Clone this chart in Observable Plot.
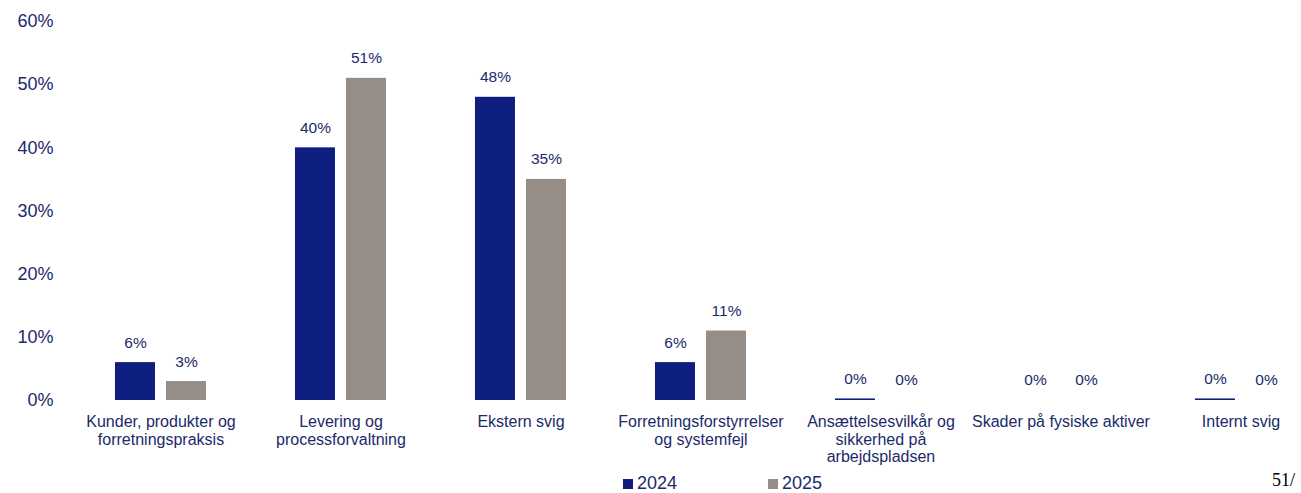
<!DOCTYPE html>
<html>
<head>
<meta charset="utf-8">
<script src="https://cdn.jsdelivr.net/npm/d3@7"></script>
<script src="https://cdn.jsdelivr.net/npm/@observablehq/plot@0.6"></script>
<style>
  html, body { margin: 0; padding: 0; background: #fff; overflow: hidden; }
  #wrap { position: relative; width: 1301px; height: 493px; overflow: hidden; font-family: "Liberation Sans", Arial, sans-serif; }
  #legend { display: flex; margin-top: 3px; padding-left: 623px; gap: 91px; font-size: 18px; line-height: 20px; color: #1b2a6b; }
  .item { display: flex; align-items: baseline; gap: 4px; }
  .sw { display: inline-block; width: 10px; height: 10px; }
  #page { position: absolute; left: 1272px; top: 471px; font-size: 18px; line-height: 18px; color: #000; font-family: "Liberation Serif", "Times New Roman", serif; }
</style>
</head>
<body>
<div id="wrap"></div>
<script>
// Categories (risk types) and their multi-line tick labels
const categories = [
  "Kunder, produkter og forretningspraksis",
  "Levering og processforvaltning",
  "Ekstern svig",
  "Forretningsforstyrrelser og systemfejl",
  "Ansættelsesvilkår og sikkerhed på arbejdspladsen",
  "Skader på fysiske aktiver",
  "Internt svig"
];
const tickLabels = [
  "Kunder, produkter og\nforretningspraksis",
  "Levering og\nprocessforvaltning",
  "Ekstern svig",
  "Forretningsforstyrrelser\nog systemfejl",
  "Ansættelsesvilkår og\nsikkerhed på\narbejdspladsen",
  "Skader på fysiske aktiver",
  "Internt svig"
];
const years = ["2024", "2025"];
// 2024 shows a hairline bar for two of the "0%" categories (small non-zero values, rounded to 0%)
const values2024 = [6, 40, 48, 6, 0.25, 0, 0.25];
const values2025 = [3, 51, 35, 11, 0, 0, 0];
const yTicks = [0, 10, 20, 30, 40, 50, 60];
const colors = ["#0f1f80", "#968d86"];
const textColor = "#1b2a6b";

const data = categories.flatMap((c, i) => [
  {cat: c, year: years[0], value: values2024[i]},
  {cat: c, year: years[1], value: values2025[i]}
]);

const chart = Plot.plot({
  width: 1301,
  height: 470,
  marginTop: 21,
  marginBottom: 70,
  marginLeft: 56,
  marginRight: 0,
  style: {fontFamily: "'Liberation Sans', Arial, sans-serif", color: textColor, background: "#fff", overflow: "visible"},
  fx: {domain: categories, paddingInner: 0.4944, paddingOuter: 0.2056, align: 0.797, round: false},
  x: {domain: years, paddingInner: 0.2157, paddingOuter: 0, round: false, axis: null},
  y: {domain: [0, 60], axis: null},
  color: {domain: years, range: colors},
  marks: [
    Plot.barY(data, {fx: "cat", x: "year", y: "value", fill: "year"}),
    Plot.text(data, {fx: "cat", x: "year", y: "value", text: d => Math.round(d.value) + "%", dy: -20, fontSize: 15.5, fill: textColor}),
    // y axis sits in the leftmost facet; shift it back to the plot's left margin
    Plot.axisY({ticks: yTicks, tickFormat: d => d + "%", tickSize: 0, tickPadding: 3, dx: -59, fontSize: 18, fill: textColor, label: null}),
    Plot.axisFx({anchor: "bottom", tickSize: 0, tickPadding: 14, fontSize: 16, lineHeight: 1.1, fill: textColor, label: null,
      tickFormat: c => tickLabels[categories.indexOf(c)]})
  ]
});

const wrap = document.getElementById("wrap");
wrap.appendChild(chart);

const legend = document.createElement("div");
legend.id = "legend";
years.forEach((y, i) => {
  const item = document.createElement("span");
  item.className = "item";
  const sw = document.createElement("span");
  sw.className = "sw";
  sw.style.background = colors[i];
  const t = document.createElement("span");
  t.textContent = y;
  item.appendChild(sw);
  item.appendChild(t);
  legend.appendChild(item);
});
wrap.appendChild(legend);

const page = document.createElement("div");
page.id = "page";
page.textContent = "51/";
wrap.appendChild(page);
</script>
</body>
</html>
